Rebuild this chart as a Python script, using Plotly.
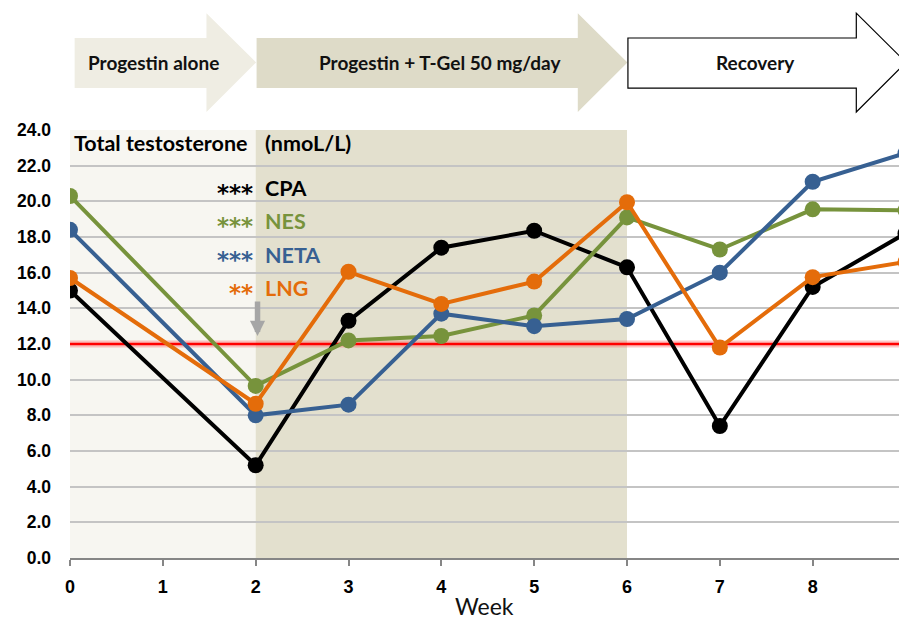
import plotly.graph_objects as go

# Weekly mean total testosterone (nmol/L) per progestin group
weeks = [0, 2, 3, 4, 5, 6, 7, 8, 9]
cpa = [15.0, 5.2, 13.3, 17.4, 18.35, 16.3, 7.4, 15.2, 18.2]
nes = [20.3, 9.65, 12.2, 12.45, 13.6, 19.1, 17.3, 19.55, 19.5]
neta = [18.4, 8.0, 8.6, 13.7, 13.0, 13.4, 16.0, 21.1, 22.7]
lng = [15.7, 8.65, 16.05, 14.25, 15.5, 19.95, 11.8, 15.75, 16.6]

series_names = ["CPA", "NES", "NETA", "LNG"]
series_values = [cpa, nes, neta, lng]
series_colors = ["#000000", "#77933c", "#376092", "#e46c0a"]
significance = ["***", "***", "***", "**"]

x_ticks = [0, 1, 2, 3, 4, 5, 6, 7, 8]
y_ticks = [0, 2, 4, 6, 8, 10, 12, 14, 16, 18, 20, 22, 24]
threshold = 12.0

# label, start week, end week, arrow fill, arrow outline, background shade, label centre
phases = [
    ("Progestin alone", 0, 2, "#efede3", "rgba(0,0,0,0)", "#f7f6f1", 0.895),
    ("Progestin + T-Gel 50 mg/day", 2, 6, "#dedbc8", "rgba(0,0,0,0)", "#e3e0ce", 3.99),
    ("Recovery", 6, 9, "#ffffff", "#000000", None, 7.38),
]

fig = go.Figure()

# normal-range threshold line, drawn beneath the series
fig.add_trace(go.Scatter(x=[0, weeks[-1] + 1], y=[threshold, threshold], mode="lines",
                         line=dict(color="rgba(255,90,90,0.35)", width=7),
                         hoverinfo="skip", showlegend=False))
fig.add_trace(go.Scatter(x=[0, weeks[-1] + 1], y=[threshold, threshold], mode="lines",
                         line=dict(color="#ff0000", width=2.5),
                         hoverinfo="skip", showlegend=False))

for name, vals, col in zip(series_names, series_values, series_colors):
    fig.add_trace(go.Scatter(
        x=weeks, y=vals, name=name, mode="lines+markers",
        line=dict(color=col, width=4),
        marker=dict(color=col, size=16),
        cliponaxis=True, showlegend=False,
    ))

shapes = []
annotations = []

# phase shading and the phase arrows above the plot
for label, x0, x1, arrow_fill, arrow_line, shade, label_x in phases:
    if shade:
        shapes.append(dict(type="rect", xref="x", yref="y", x0=x0, x1=x1, y0=0, y1=24,
                           fillcolor=shade, line=dict(width=0), layer="below"))
    bx0 = x0 + 0.05 if x0 == 0 else x0 + 0.01
    bx1 = x1 - 0.53
    tip = x1 + 0.005
    top, bot = 1.215, 1.098
    htop, hbot, mid = 1.273, 1.042, 1.158
    path = (f"M {bx0},{top} L {bx1},{top} L {bx1},{htop} L {tip},{mid} "
            f"L {bx1},{hbot} L {bx1},{bot} L {bx0},{bot} Z")
    shapes.append(dict(type="path", xref="x", yref="paper", path=path,
                       fillcolor=arrow_fill,
                       line=dict(color=arrow_line, width=1.2), layer="above"))
    annotations.append(dict(
        x=label_x, y=mid, xref="x", yref="paper",
        text=f"<b>{label}</b>", showarrow=False,
        font=dict(family="Lato", size=19, color="#111111"),
        xanchor="center", yanchor="middle"))

# title inside the plot
annotations.append(dict(x=0.02, y=23.25, xref="x", yref="y", text="<b>Total testosterone</b>",
                        showarrow=False, xanchor="left", yanchor="middle",
                        font=dict(family="Lato", size=21.5, color="#000000")))
annotations.append(dict(x=2.08, y=23.25, xref="x", yref="y", text="<b>(nmoL/L)</b>",
                        showarrow=False, xanchor="left", yanchor="middle",
                        font=dict(family="Lato", size=21.5, color="#000000")))

# legend-style labels with significance stars
legend_y = [20.75, 18.9, 17.0, 15.15]
for name, col, stars, ly in zip(series_names, series_colors, significance, legend_y):
    annotations.append(dict(x=2.08, y=ly, xref="x", yref="y", text=f"<b>{name}</b>",
                            showarrow=False, xanchor="left", yanchor="middle",
                            font=dict(family="Lato", size=21.5, color=col)))
    annotations.append(dict(x=1.99, y=ly - 0.3, xref="x", yref="y", text=f"<b>{stars}</b>",
                            showarrow=False, xanchor="right", yanchor="middle",
                            font=dict(family="DejaVu Sans", size=23, color=col)))

# grey marker arrow at the start of T-Gel
annotations.append(dict(x=2.02, y=12.45, xref="x", yref="y", ax=0, ay=-36,
                        showarrow=True, arrowhead=2, arrowsize=0.55, arrowwidth=5.5,
                        arrowcolor="#a6a6a6", text=""))

# axis title
annotations.append(dict(x=0.5, y=-0.113, xref="paper", yref="paper", text="Week",
                        showarrow=False, xanchor="center", yanchor="middle",
                        font=dict(family="Lato", size=23, color="#111111")))

fig.update_layout(
    width=899, height=619,
    margin=dict(l=70, r=0, t=130, b=61),
    paper_bgcolor="#ffffff", plot_bgcolor="#ffffff",
    shapes=shapes, annotations=annotations,
    xaxis=dict(range=[0, 8.93], tickvals=x_ticks, ticktext=[str(t) for t in x_ticks],
               showgrid=False, zeroline=False, showline=True, linecolor="#868686", linewidth=2,
               ticks="outside", ticklen=6, tickwidth=1.5, tickcolor="#868686",
               ticklabelstandoff=5,
               tickfont=dict(family="Liberation Sans", size=18, color="#000000", weight="bold")),
    yaxis=dict(range=[0, 24], tickvals=y_ticks, tickformat=".1f",
               showgrid=True, gridcolor="#c4c4c4", gridwidth=1.5,
               zeroline=False, showline=False, ticks="",
               ticklabelstandoff=18,
               tickfont=dict(family="Liberation Sans", size=17.5, color="#000000", weight="bold")),
)

fig.write_html("out.html")
